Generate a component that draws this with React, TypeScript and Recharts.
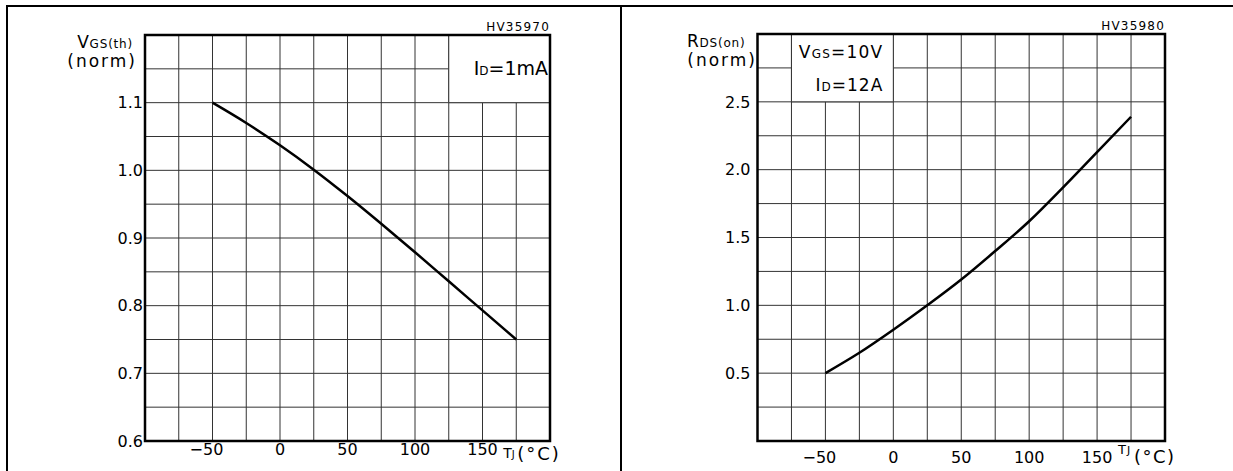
import React from 'react'
import { LineChart, Line, XAxis, YAxis, CartesianGrid, ReferenceArea } from 'recharts'

const FONT = '"DejaVu Sans", sans-serif'

// temperature axis, shared by both panels
const tempTicks = [-100, -75, -50, -25, 0, 25, 50, 75, 100, 125, 150, 175, 200]
const tempLabels = [-50, 0, 50, 100, 150]
const tempUnitAt = 175

// left panel: normalised gate threshold voltage
const vgsTemps = [-50, -25, 0, 25, 50, 75, 100, 125, 150, 175]
const vgsNorm = [1.1, 1.07, 1.037, 1.001, 0.962, 0.921, 0.879, 0.836, 0.793, 0.75]
const vgsTicks = [0.6, 0.65, 0.7, 0.75, 0.8, 0.85, 0.9, 0.95, 1.0, 1.05, 1.1, 1.15, 1.2]
const vgsLabels = [0.6, 0.7, 0.8, 0.9, 1.0, 1.1]

// right panel: normalised on-resistance
const rdsTemps = [-50, -25, 0, 25, 50, 75, 100, 125, 150, 175]
const rdsNorm = [0.5, 0.65, 0.82, 1.0, 1.19, 1.4, 1.62, 1.87, 2.13, 2.39]
const rdsTicks = [0, 0.25, 0.5, 0.75, 1.0, 1.25, 1.5, 1.75, 2.0, 2.25, 2.5, 2.75, 3.0]
const rdsLabels = [0.5, 1.0, 1.5, 2.0, 2.5]

const vgsData = vgsTemps.map((t, i) => ({ t, v: vgsNorm[i] }))
const rdsData = rdsTemps.map((t, i) => ({ t, v: rdsNorm[i] }))

function TempTick(props: any) {
  const { x, y, payload, raised } = props
  const v = payload.value
  if (v === tempUnitAt) {
    if (raised) {
      return (
        <g fontFamily={FONT} fill="#000">
          <text x={x - 13} y={y + 2} fontSize={13} letterSpacing={1}>
            T<tspan fontSize={11}>J</tspan>
          </text>
          <text x={x + 3} y={y + 11} fontSize={18} letterSpacing={1.5}>(°C)</text>
        </g>
      )
    }
    return (
      <g fontFamily={FONT} fill="#000">
        <text x={x - 13} y={y + 14} fontSize={14}>
          T<tspan fontSize={10}>J</tspan>
        </text>
        <text x={x + 1} y={y + 16} fontSize={18} letterSpacing={2}>(°C)</text>
      </g>
    )
  }
  if (!tempLabels.includes(v)) return <g />
  return (
    <text x={v < 0 ? x - 6 : x} y={y} dy="0.71em" textAnchor="middle" fontFamily={FONT} fontSize={16} fill="#000">
      {v < 0 ? '−' + Math.abs(v) : String(v)}
    </text>
  )
}

function NormTick(props: any) {
  const { x, y, payload, labels } = props
  if (!labels.includes(payload.value)) return <g />
  return (
    <text x={x} y={y} dy="0.36em" textAnchor="end" fontFamily={FONT} fontSize={16} fill="#000">
      {payload.value.toFixed(1)}
    </text>
  )
}

function PanelTitle(props: any) {
  const { viewBox, code, sym, sub, normDx } = props
  const { x, y, width } = viewBox
  return (
    <g fontFamily={FONT} fill="#000">
      <text x={x + width} y={y - 4.5} textAnchor="end" fontSize={12} letterSpacing={1.2}>{code}</text>
      <text x={x - 12} y={y + 13} textAnchor="end" fontSize={17} letterSpacing={0.8}>
        {sym}<tspan fontSize={12}>{sub}</tspan>
      </text>
      <text x={x - normDx} y={y + 32} textAnchor="end" fontSize={17} letterSpacing={2}>(norm)</text>
    </g>
  )
}

function VgsNote(props: any) {
  const { x, y, width } = props.viewBox
  return (
    <text x={x + width - 2} y={y + 40} textAnchor="end" fontFamily={FONT} fontSize={19} fill="#000">
      I<tspan fontSize={12}>D</tspan>=1mA
    </text>
  )
}

function RdsNote(props: any) {
  const { x, y, width } = props.viewBox
  return (
    <g fontFamily={FONT} fill="#000" fontSize={17}>
      <text x={x + width - 10} y={y + 24} textAnchor="end" letterSpacing={1.2}>
        V<tspan fontSize={12}>GS</tspan>=10V
      </text>
      <text x={x + width - 10} y={y + 57} textAnchor="end" letterSpacing={1}>
        I<tspan fontSize={12}>D</tspan>=12A
      </text>
    </g>
  )
}

export default function App() {
  return (
    <div style={{ position: 'absolute', left: 0, top: 0, width: 1233, height: 471, overflow: 'hidden', background: '#fff' }}>
      <div style={{ position: 'absolute', left: 0, top: 0 }}>
        <LineChart width={620} height={471} data={vgsData} margin={{ top: 35, right: 70, bottom: 0, left: 85 }}>
          <CartesianGrid stroke="#333" strokeWidth={1} />
          <XAxis
            dataKey="t"
            type="number"
            domain={[-100, 200]}
            ticks={tempTicks}
            interval={0}
            height={30}
            axisLine={false}
            tickLine={false}
            tickSize={0}
            tickMargin={3}
            tick={<TempTick />}
          />
          <YAxis
            type="number"
            domain={[0.6, 1.2]}
            ticks={vgsTicks}
            interval={0}
            width={60}
            axisLine={false}
            tickLine={false}
            tickSize={0}
            tickMargin={2}
            tick={<NormTick labels={vgsLabels} />}
          />
          <ReferenceArea x1={125} x2={200} y1={1.1} y2={1.2} fill="#fff" fillOpacity={1} stroke="#333" strokeWidth={1} label={<VgsNote />} />
          <ReferenceArea
            x1={-100}
            x2={200}
            y1={0.6}
            y2={1.2}
            fill="none"
            stroke="#000"
            strokeWidth={2.5}
            label={<PanelTitle code="HV35970" sym="V" sub="GS(th)" normDx={8} />}
          />
          <Line type="monotone" dataKey="v" stroke="#000" strokeWidth={2.5} dot={false} isAnimationActive={false} />
        </LineChart>
      </div>
      <div style={{ position: 'absolute', left: 620, top: 0 }}>
        <LineChart width={613} height={471} data={rdsData} margin={{ top: 34, right: 68, bottom: 0, left: 77.5 }}>
          <CartesianGrid stroke="#333" strokeWidth={1} />
          <XAxis
            dataKey="t"
            type="number"
            domain={[-100, 200]}
            ticks={tempTicks}
            interval={0}
            height={30}
            axisLine={false}
            tickLine={false}
            tickSize={0}
            tickMargin={11}
            tick={<TempTick raised />}
          />
          <YAxis
            type="number"
            domain={[0, 3]}
            ticks={rdsTicks}
            interval={0}
            width={60}
            axisLine={false}
            tickLine={false}
            tickSize={0}
            tickMargin={7}
            tick={<NormTick labels={rdsLabels} />}
          />
          <ReferenceArea x1={-75} x2={0} y1={2.5} y2={3} fill="#fff" fillOpacity={1} stroke="#333" strokeWidth={1} label={<RdsNote />} />
          <ReferenceArea
            x1={-100}
            x2={200}
            y1={0}
            y2={3}
            fill="none"
            stroke="#000"
            strokeWidth={2.5}
            label={<PanelTitle code="HV35980" sym="R" sub="DS(on)" normDx={0.5} />}
          />
          <Line type="monotone" dataKey="v" stroke="#000" strokeWidth={2.5} dot={false} isAnimationActive={false} />
        </LineChart>
      </div>
      {/* outer frame and panel divider */}
      <div style={{ position: 'absolute', left: 6, top: 5, width: 1300, height: 500, borderLeft: '2.5px solid #000', borderTop: '2.5px solid #000' }} />
      <div style={{ position: 'absolute', left: 619.5, top: 5, width: 2.5, height: 470, background: '#000' }} />
    </div>
  )
}
